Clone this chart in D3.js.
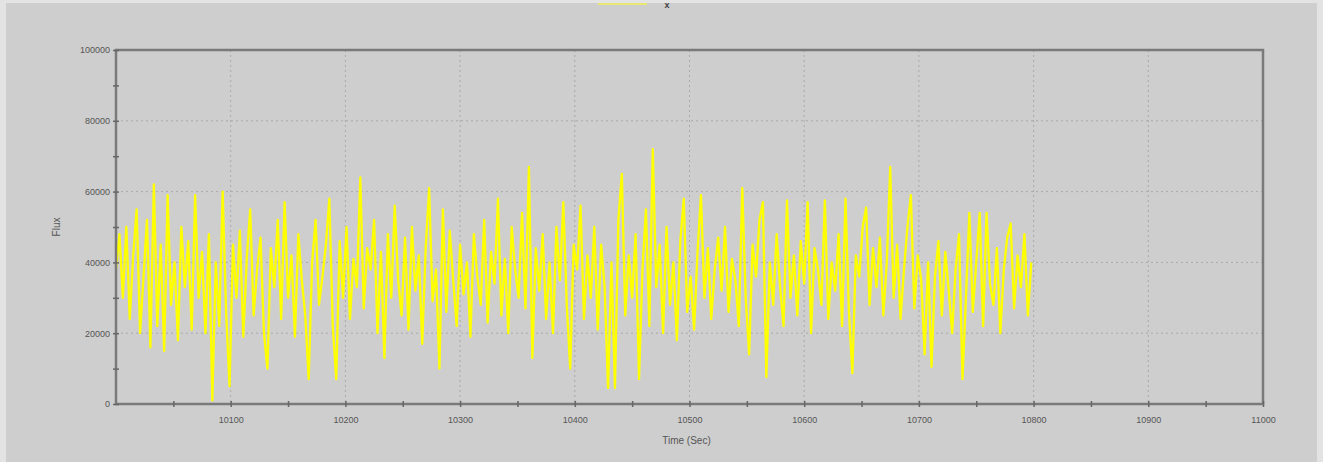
<!DOCTYPE html>
<html>
<head>
<meta charset="utf-8">
<script src="https://cdn.jsdelivr.net/npm/d3@7"></script>
<style>
  html, body { margin: 0; padding: 0; background: #e3e3e3; }
  svg { display: block; font-family: "Liberation Sans", Arial, sans-serif; }
</style>
</head>
<body>
<svg id="chart"></svg>
<script>
const width = 1323, height = 462;

// time axis (seconds), one sample every 3 s
const tStart = 10000, tStep = 3;
const xTicks = [10100, 10200, 10300, 10400, 10500, 10600, 10700, 10800, 10900, 11000];
const xMinor = [10050, 10150, 10250, 10350, 10450, 10550, 10650, 10750, 10850, 10950];
const yTicks = [0, 20000, 40000, 60000, 80000, 100000];
const yMinor = [10000, 30000, 50000, 70000, 90000];

// flux values
const flux = [
  38000, 48000, 30000, 50000, 24000, 42000, 55000, 20000, 36000, 52000,
  16000, 62000, 22000, 45000, 15000, 59000, 28000, 40000, 18000, 50000,
  33000, 46000, 21000, 59000, 30000, 43000, 20000, 48000, 1000, 40000,
  22000, 60000, 26000, 5000, 45000, 30000, 49000, 19000, 41000, 55000,
  25000, 38000, 47000, 20000, 10000, 44000, 33000, 52000, 24000, 57000,
  30000, 42000, 19000, 48000, 35000, 25000, 7000, 40000, 52000, 28000,
  36000, 45000, 58000, 22000, 7000, 46000, 30000, 50000, 24000, 41000,
  33000, 64000, 27000, 44000, 38000, 52000, 20000, 43000, 13000, 48000,
  30000, 56000, 35000, 25000, 47000, 21000, 50000, 32000, 42000, 17000,
  44000, 61000, 29000, 38000, 10000, 55000, 26000, 49000, 35000, 22000,
  45000, 31000, 40000, 19000, 48000, 36000, 28000, 52000, 23000, 43000,
  34000, 58000, 25000, 41000, 20000, 50000, 38000, 30000, 54000, 27000,
  67000, 13000, 44000, 32000, 48000, 24000, 40000, 20000, 50000, 35000,
  57000, 28000, 10000, 45000, 38000, 56000, 24000, 42000, 30000, 50000,
  21000, 45000, 33000, 4500, 40000, 4500, 52000, 65000, 25000, 42000,
  30000, 48000, 7000, 38000, 55000, 22000, 72000, 33000, 45000, 20000,
  50000, 28000, 40000, 18000, 46000, 58000, 26000, 36000, 21000, 43000,
  59000, 30000, 44000, 24000, 38000, 47000, 32000, 50000, 26000, 41000,
  35000, 22000, 61000, 30000, 14000, 45000, 36000, 52000, 57000, 7600,
  40000, 28000, 48000, 33000, 22000, 57500, 30000, 42000, 25000, 46000,
  34000, 57000, 20000, 44000, 38000, 28000, 57500, 24000, 40000, 32000,
  48000, 22000, 58000, 26000, 8700, 42000, 36000, 50000, 55500, 28000,
  44000, 33000, 47000, 25000, 40000, 67000, 30000, 45000, 24000, 38000,
  50000, 59000, 27000, 42000, 35000, 14000, 40000, 10500, 36000, 46000,
  25000, 43000, 32000, 20000, 38000, 48000, 7000, 30000, 54000, 26000,
  40000, 54000, 22000, 54000, 34000, 28000, 44000, 20000, 38000, 47000,
  51000, 27000, 42000, 33000, 48000, 25000, 40000
];
const data = flux.map((v, i) => ({ t: tStart + i * tStep, v: v }));

const plot = { left: 116, right: 1263, top: 50, bottom: 404 };

const x = d3.scaleLinear().domain([10000, 11000]).range([plot.left, plot.right]);
const y = d3.scaleLinear().domain([0, 100000]).range([plot.bottom, plot.top]);

const svg = d3.select("#chart")
    .attr("width", width)
    .attr("height", height);

// grey panel
svg.append("rect")
    .attr("x", 6).attr("y", 3)
    .attr("width", width - 12).attr("height", height - 3)
    .attr("fill", "#cecece");

// dotted grid
svg.append("g").selectAll("line")
    .data(xTicks.slice(0, -1))
    .enter().append("line")
    .attr("x1", d => x(d)).attr("x2", d => x(d))
    .attr("y1", plot.top).attr("y2", plot.bottom)
    .attr("stroke", "#a9a9a9")
    .attr("stroke-dasharray", "2,3");

svg.append("g").selectAll("line")
    .data(yTicks.slice(1, -1))
    .enter().append("line")
    .attr("x1", plot.left).attr("x2", plot.right)
    .attr("y1", d => y(d)).attr("y2", d => y(d))
    .attr("stroke", "#a9a9a9")
    .attr("stroke-dasharray", "2,3");

// the series
const line = d3.line().x(d => x(d.t)).y(d => y(d.v));
svg.append("path")
    .datum(data)
    .attr("d", line)
    .attr("fill", "none")
    .attr("stroke", "#ffff00")
    .attr("stroke-width", 2.3)
    .attr("stroke-linejoin", "round");

// frame
svg.append("rect")
    .attr("x", plot.left).attr("y", plot.top)
    .attr("width", plot.right - plot.left).attr("height", plot.bottom - plot.top)
    .attr("fill", "none")
    .attr("stroke", "#7a7a7a")
    .attr("stroke-width", 2.5);

// axes
function styleAxis(g) {
    g.select(".domain").remove();
    g.selectAll(".tick line").attr("stroke", "#666").attr("stroke-width", 1.5);
    g.selectAll(".tick text").attr("fill", "#555").style("font-size", "9px");
}

svg.append("g")
    .attr("transform", `translate(0,${plot.bottom})`)
    .call(d3.axisBottom(x).tickValues(xTicks).tickFormat(d3.format("d")).tickSizeInner(3).tickSizeOuter(0).tickPadding(10))
    .call(styleAxis)
    .selectAll(".tick line").attr("y1", -3);

svg.append("g")
    .attr("transform", `translate(0,${plot.bottom})`)
    .call(d3.axisBottom(x).tickValues(xMinor).tickFormat("").tickSizeInner(3).tickSizeOuter(0))
    .call(styleAxis)
    .selectAll(".tick line").attr("y1", -3);

svg.append("g")
    .attr("transform", `translate(${plot.left},0)`)
    .call(d3.axisLeft(y).tickValues(yTicks).tickFormat(d3.format("d")).tickSizeInner(3).tickSizeOuter(0).tickPadding(3))
    .call(styleAxis)
    .selectAll(".tick line").attr("x1", 3);

svg.append("g")
    .attr("transform", `translate(${plot.left},0)`)
    .call(d3.axisLeft(y).tickValues(yMinor).tickFormat("").tickSizeInner(3).tickSizeOuter(0))
    .call(styleAxis)
    .selectAll(".tick line").attr("x1", 3);

// axis titles
svg.append("text")
    .attr("x", (plot.left + plot.right) / 2 - 3)
    .attr("y", 444)
    .attr("text-anchor", "middle")
    .attr("fill", "#555")
    .style("font-size", "10px")
    .text("Time (Sec)");

svg.append("text")
    .attr("transform", `translate(60,${(plot.top + plot.bottom) / 2}) rotate(-90)`)
    .attr("text-anchor", "middle")
    .attr("fill", "#555")
    .style("font-size", "10px")
    .text("Flux");

// legend (cut at the top edge)
svg.append("line")
    .attr("x1", 598).attr("x2", 647)
    .attr("y1", 4).attr("y2", 4)
    .attr("stroke", "#e8e870")
    .attr("stroke-width", 2);

svg.append("text")
    .attr("x", 667).attr("y", 8)
    .attr("text-anchor", "middle")
    .attr("fill", "#444")
    .style("font-size", "9px")
    .style("font-weight", "bold")
    .text("x");
</script>
</body>
</html>
